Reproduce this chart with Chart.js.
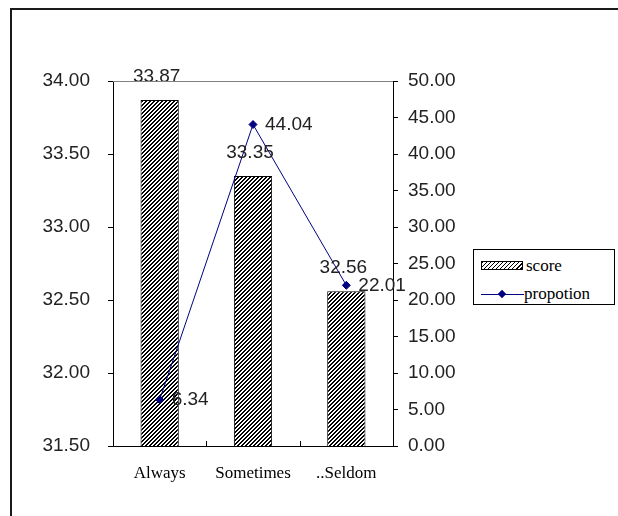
<!DOCTYPE html>
<html>
<head>
<meta charset="utf-8">
<script src="https://cdn.jsdelivr.net/npm/chart.js@4.4.1/dist/chart.umd.min.js"></script>
<style>
  html, body { margin: 0; padding: 0; background: #fff; }
  #wrap { position: relative; width: 618px; height: 516px; overflow: hidden; }
  #frame { position: absolute; left: 10px; top: 8px; width: 700px; height: 600px; border-left: 2px solid #1a1a1a; border-top: 2px solid #1a1a1a; box-sizing: border-box; }
  canvas { position: absolute; left: 0; top: 0; }
  #legend { position: absolute; left: 473px; top: 249px; width: 142px; height: 56px; border: 1px solid #000; box-sizing: border-box; background: #fff; font-family: "Liberation Serif", "Times New Roman", serif; font-size: 17px; color: #000; }
  .item { position: absolute; left: 7px; height: 18px; line-height: 18px; white-space: nowrap; }
  .sw { position: absolute; left: 0; top: 4px; width: 40px; height: 7px; border: 1px solid #000; background: repeating-linear-gradient(135deg, #000 0px, #000 1.4px, #fff 1.4px, #fff 2.83px); }
  .ln { position: absolute; left: 0; top: 9px; width: 43px; height: 1px; background: #000080; }
  .dm { position: absolute; left: 18px; top: 6px; width: 6px; height: 6px; background: #000080; transform: rotate(45deg); }
  .lt { position: absolute; top: 0; white-space: nowrap; }
</style>
</head>
<body>
<div id="wrap">
  <div id="frame"></div>
  <canvas id="c" width="618" height="516"></canvas>
  <div id="legend"></div>
</div>
<script>
const categories = ["Always", "Sometimes", "..Seldom"];
const scoreValues = [33.87, 33.35, 32.56];
const proportionValues = [6.34, 44.04, 22.01];
const seriesNames = ["score", "propotion"];
const leftTicks = [31.5, 34, 0.5];   // min, max, step
const rightTicks = [0, 50, 5];       // min, max, step

function makeHatch() {
  const p = document.createElement('canvas');
  p.width = 4; p.height = 4;
  const g = p.getContext('2d');
  g.fillStyle = '#fff'; g.fillRect(0, 0, 4, 4);
  g.fillStyle = '#000';
  for (let x = 0; x < 4; x++) {
    for (let y = 0; y < 4; y++) {
      const k = (x + y) % 4;
      if (k === 2 || k === 3) g.fillRect(x, y, 1, 1);
    }
  }
  return document.getElementById('c').getContext('2d').createPattern(p, 'repeat');
}

const numFont = { family: '"Liberation Sans", Arial, sans-serif', size: 19 };

const labelPlugin = {
  id: 'valueLabels',
  afterDatasetsDraw(chart) {
    const ctx = chart.ctx;
    ctx.save();
    ctx.font = '19px "Liberation Sans", Arial, sans-serif';
    ctx.fillStyle = '#222';
    ctx.textBaseline = 'middle';
    chart.data.datasets.forEach((ds, i) => {
      const meta = chart.getDatasetMeta(i);
      meta.data.forEach((el, j) => {
        const v = ds.data[j].toFixed(2);
        if (ds.type === 'bar') {
          ctx.textAlign = 'center';
          ctx.fillText(v, el.x - 3, el.y - 23);
        } else {
          ctx.textAlign = 'left';
          ctx.fillText(v, el.x + 12, el.y);
        }
      });
    });
    ctx.restore();
  }
};

const framePlugin = {
  id: 'plotFrame',
  afterDraw(chart) {
    const ctx = chart.ctx, a = chart.chartArea, xs = chart.scales.x;
    ctx.save();
    ctx.strokeStyle = '#808080'; ctx.lineWidth = 1;
    ctx.beginPath();
    ctx.moveTo(a.left, Math.round(a.top) + 0.5);
    ctx.lineTo(a.right, Math.round(a.top) + 0.5);
    ctx.stroke();
    ctx.strokeStyle = '#000';
    ctx.beginPath();
    for (let i = 1; i < xs.ticks.length; i++) {
      const x = Math.round((xs.getPixelForTick(i - 1) + xs.getPixelForTick(i)) / 2) + 0.5;
      ctx.moveTo(x, a.bottom);
      ctx.lineTo(x, a.bottom - 5);
    }
    ctx.stroke();
    ctx.restore();
  }
};

const hatch = makeHatch();

new Chart(document.getElementById('c'), {
  data: {
    labels: categories,
    datasets: [
      {
        type: 'line', label: seriesNames[1], data: proportionValues, yAxisID: 'y2',
        borderColor: '#000080', borderWidth: 1, backgroundColor: '#000080',
        pointStyle: 'rectRot', pointRadius: 4, pointBackgroundColor: '#000080', pointBorderColor: '#000080',
        tension: 0, order: 0
      },
      {
        type: 'bar', label: seriesNames[0], data: scoreValues, yAxisID: 'y',
        backgroundColor: hatch, borderColor: '#000', borderWidth: 1,
        barPercentage: 0.41, categoryPercentage: 1, order: 1
      }
    ]
  },
  options: {
    responsive: false,
    animation: false,
    layout: { padding: { left: 0, right: 0, top: 81, bottom: 0 } },
    plugins: { legend: { display: false }, tooltip: { enabled: false } },
    scales: {
      x: {
        type: 'category', offset: true,
        grid: { display: false, drawTicks: false },
        border: { display: true, color: '#000', width: 1 },
        ticks: { color: '#000', padding: 17, font: { family: '"Liberation Serif", "Times New Roman", serif', size: 17 }, maxRotation: 0 },
        afterFit(s) { s.height = 70; }
      },
      y: {
        position: 'left', min: leftTicks[0], max: leftTicks[1],
        ticks: { stepSize: leftTicks[2], color: '#222', padding: 18, font: numFont, callback: v => v.toFixed(2) },
        grid: { drawOnChartArea: false, drawTicks: true, tickLength: 5, color: '#000' },
        border: { display: true, color: '#000', width: 1 },
        afterFit(s) { s.width = 113; }
      },
      y2: {
        position: 'right', min: rightTicks[0], max: rightTicks[1],
        ticks: { stepSize: rightTicks[2], color: '#222', padding: 10, font: numFont, callback: v => v.toFixed(2) },
        grid: { drawOnChartArea: false, drawTicks: true, tickLength: 5, color: '#000' },
        border: { display: true, color: '#000', width: 1 },
        afterFit(s) { s.width = 225; }
      }
    }
  },
  plugins: [labelPlugin, framePlugin]
});

const lg = document.getElementById('legend');
lg.innerHTML =
  '<div class="item" style="top:7px"><div class="sw"></div><span class="lt" style="left:45px">' + seriesNames[0] + '</span></div>' +
  '<div class="item" style="top:35px"><div class="ln"></div><div class="dm"></div><span class="lt" style="left:43px">' + seriesNames[1] + '</span></div>';
</script>
</body>
</html>
